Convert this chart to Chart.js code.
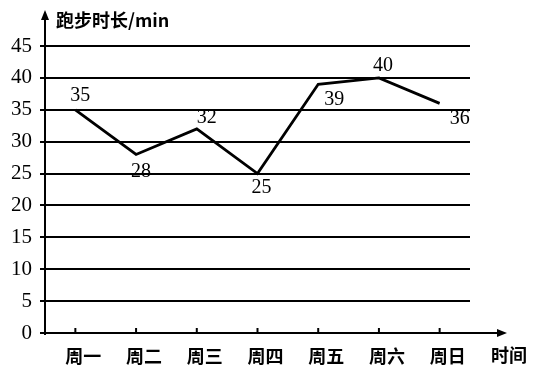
<!DOCTYPE html>
<html>
<head>
<meta charset="utf-8">
<script src="https://cdn.jsdelivr.net/npm/chart.js@4"></script>
<style>
  html, body { margin: 0; padding: 0; background: #fff; }
  #wrap { width: 533px; height: 365px; }
</style>
</head>
<body>
<div id="wrap"><canvas id="runChart" width="533" height="365"></canvas></div>
<script>
// data
const days = ['周一', '周二', '周三', '周四', '周五', '周六', '周日'];
const minutes = [35, 28, 32, 25, 39, 40, 36];
const yTicks = [0, 5, 10, 15, 20, 25, 30, 35, 40, 45];

const yTitle = '跑步时长/min';
const xTitle = '时间';

// where each value label sits relative to its point (dx, dy)
const labelShift = [[5, -14], [5, 17], [10, -11], [4, 14], [16, 15], [4, -12], [20, 15]];

const numFont = '20px "Liberation Serif", "DejaVu Serif", serif';
const cjkFont = 'bold 18px "Noto Sans CJK SC", sans-serif';

// axes with arrows, small ticks, value labels, titles
const axisDecor = {
  id: 'axisDecor',
  afterDraw(chart) {
    const c = chart.ctx;
    const area = chart.chartArea;
    const xs = chart.scales.x;
    const meta = chart.getDatasetMeta(0);
    c.save();
    c.strokeStyle = '#000';
    c.fillStyle = '#000';
    c.lineWidth = 2;

    // y axis
    c.beginPath();
    c.moveTo(area.left, area.bottom + 2);
    c.lineTo(area.left, 16);
    c.stroke();
    c.beginPath();
    c.moveTo(area.left, 10);
    c.lineTo(area.left - 4, 20);
    c.lineTo(area.left + 4, 20);
    c.closePath();
    c.fill();

    // x axis
    c.beginPath();
    c.moveTo(area.left - 5, area.bottom);
    c.lineTo(500, area.bottom);
    c.stroke();
    c.beginPath();
    c.moveTo(507, area.bottom);
    c.lineTo(497, area.bottom - 4);
    c.lineTo(497, area.bottom + 4);
    c.closePath();
    c.fill();

    // small ticks above the x axis
    days.forEach((d, i) => {
      const x = xs.getPixelForValue(i);
      c.beginPath();
      c.moveTo(x, area.bottom);
      c.lineTo(x, area.bottom - 5);
      c.stroke();
    });

    // value labels
    c.font = numFont;
    c.textAlign = 'center';
    c.textBaseline = 'middle';
    meta.data.forEach((pt, i) => {
      const s = labelShift[i];
      c.fillText(String(minutes[i]), pt.x + s[0], pt.y + s[1]);
    });

    // titles
    c.font = cjkFont;
    c.textAlign = 'left';
    c.fillText(yTitle, 56, 20);
    c.fillText(xTitle, 491, 355);
    c.restore();
  }
};

new Chart(document.getElementById('runChart'), {
  type: 'line',
  data: {
    labels: days,
    datasets: [{
      data: minutes,
      borderColor: '#000',
      borderWidth: 2.8,
      pointRadius: 0,
      tension: 0,
      fill: false
    }]
  },
  options: {
    responsive: false,
    animation: false,
    layout: { padding: { top: 46, right: 63, left: 0, bottom: 0 } },
    plugins: {
      legend: { display: false },
      tooltip: { enabled: false }
    },
    scales: {
      x: {
        offset: true,
        grid: { display: false },
        border: { display: false },
        ticks: {
          color: '#000',
          font: { family: '"Noto Sans CJK SC", sans-serif', size: 18, weight: 'bold' },
          labelOffset: 8,
          padding: 4,
          maxRotation: 0
        },
        afterFit(scale) { scale.height = 32; }
      },
      y: {
        min: 0,
        max: 45,
        afterBuildTicks(scale) { scale.ticks = yTicks.map(v => ({ value: v })); },
        grid: { color: '#000', lineWidth: 2, tickLength: 5, drawTicks: true },
        border: { display: false },
        ticks: {
          color: '#000',
          font: { family: '"Liberation Serif", serif', size: 21 },
          padding: 8
        },
        afterFit(scale) { scale.width = 45; }
      }
    }
  },
  plugins: [axisDecor]
});
</script>
</body>
</html>
